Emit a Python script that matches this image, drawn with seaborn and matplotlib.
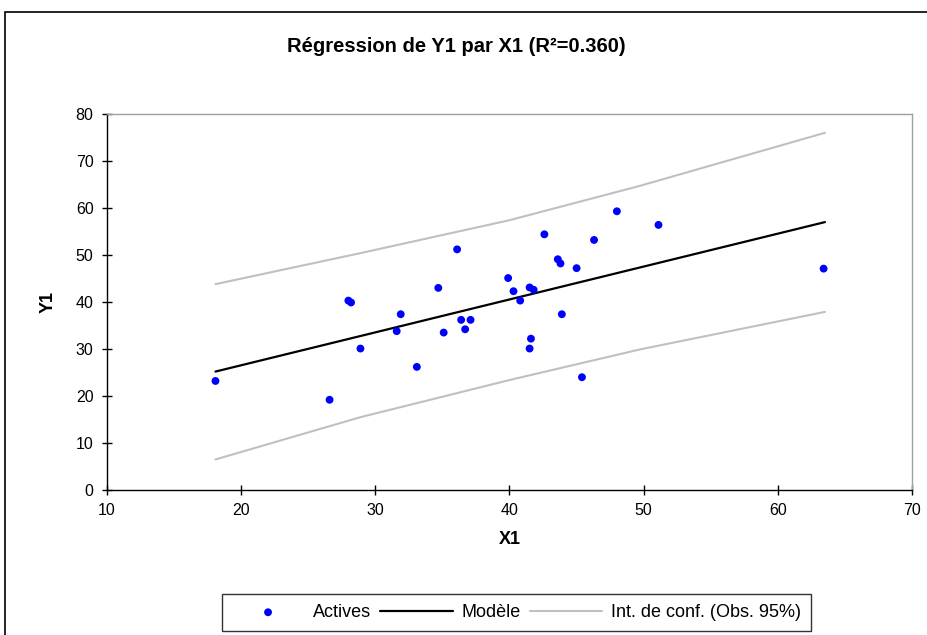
import matplotlib
matplotlib.use("Agg")
import matplotlib.pyplot as plt
import matplotlib.patches as mpatches
import seaborn as sns
import pandas as pd

# --- Données ---
x1 = [18.1, 26.6, 28.0, 28.2, 28.9, 31.6, 31.9, 33.1, 34.7, 35.1, 36.1,
      36.4, 36.7, 37.1, 39.9, 40.3, 40.8, 41.5, 41.8, 41.6, 41.5, 42.6,
      43.6, 43.8, 43.9, 45.0, 45.4, 46.3, 48.0, 51.1, 63.4]
y1 = [23.2, 19.2, 40.3, 39.9, 30.1, 33.8, 37.4, 26.2, 43.0, 33.5, 51.2,
      36.2, 34.2, 36.2, 45.1, 42.3, 40.3, 43.1, 42.6, 32.2, 30.1, 54.4,
      49.1, 48.2, 37.4, 47.2, 24.0, 53.2, 59.3, 56.4, 47.1]

modele_x = [18.1, 63.5]
modele_y = [25.2, 57.0]

ic_x = [18.1, 28.9, 40.0, 49.7, 63.5]
ic_haut = [43.8, 50.4, 57.4, 64.7, 76.0]
ic_bas = [6.5, 15.5, 23.4, 29.9, 37.9]

df_obs = pd.DataFrame({'X1': x1, 'Y1': y1})
df_mod = pd.DataFrame({'X1': modele_x, 'Y1': modele_y})
df_ic = pd.DataFrame({'X1': ic_x, 'haut': ic_haut, 'bas': ic_bas})

sns.set_style("white")
plt.rcParams['font.family'] = ['Liberation Sans', 'DejaVu Sans']
plt.rcParams['text.color'] = 'black'
plt.rcParams['axes.labelcolor'] = 'black'
plt.rcParams['xtick.color'] = 'black'
plt.rcParams['ytick.color'] = 'black'

fig = plt.figure(figsize=(9.28, 6.35), dpi=100)
ax = fig.add_axes([0.115, 0.2283, 0.868, 0.5922])

sns.lineplot(data=df_ic, x='X1', y='haut', ax=ax, color='#C0C0C0', linewidth=1.5,
             label='Int. de conf. (Obs. 95%)')
sns.lineplot(data=df_ic, x='X1', y='bas', ax=ax, color='#C0C0C0', linewidth=1.5)
sns.lineplot(data=df_mod, x='X1', y='Y1', ax=ax, color='black', linewidth=1.6, label='Modèle')
sns.scatterplot(data=df_obs, x='X1', y='Y1', ax=ax, color='#0000FF', s=32,
                edgecolor='none', label='Actives', zorder=5)

ax.set_xlim(10, 70)
ax.set_ylim(0, 80)
ax.set_xticks(range(10, 71, 10))
ax.set_yticks(range(0, 81, 10))
ax.tick_params(axis='both', direction='inout', length=7, width=1, color='black',
               labelsize=11.5, pad=6, bottom=True, left=True)

for side in ['left', 'bottom']:
    ax.spines[side].set_color('black')
    ax.spines[side].set_linewidth(1)
for side in ['top', 'right']:
    ax.spines[side].set_color('#A0A0A0')
    ax.spines[side].set_linewidth(1)

ax.set_xlabel('X1', fontsize=13, fontweight='bold', labelpad=9)
ax.set_ylabel('Y1', fontsize=13, fontweight='bold', labelpad=14)

fig.text(0.492, 1 - 46 / 635, 'Régression de Y1 par X1 (R²=0.360)', ha='center', va='center',
         fontsize=14.5, fontweight='bold')

# légende dans l'ordre : Actives, Modèle, Int. de conf.
handles, labels = ax.get_legend_handles_labels()
ordre = [labels.index('Actives'), labels.index('Modèle'), labels.index('Int. de conf. (Obs. 95%)')]
ax.legend([handles[i] for i in ordre], [labels[i] for i in ordre],
          loc='center', bbox_to_anchor=(0.5566, 1 - 612.5 / 635), bbox_transform=fig.transFigure,
          ncol=3, frameon=True, fancybox=False, edgecolor='black', fontsize=13,
          handlelength=4.0, columnspacing=0.5, handletextpad=0.5, borderpad=0.55)
ax.get_legend().get_frame().set_linewidth(1)

# cadre de la zone de graphique
cadre = mpatches.Rectangle((5 / 928, -0.2), 1.2, 1.2 - 12 / 635, transform=fig.transFigure,
                           fill=False, edgecolor='black', linewidth=1.2, clip_on=False)
fig.patches.append(cadre)

fig.savefig('out.png', dpi=100)
plt.close()
